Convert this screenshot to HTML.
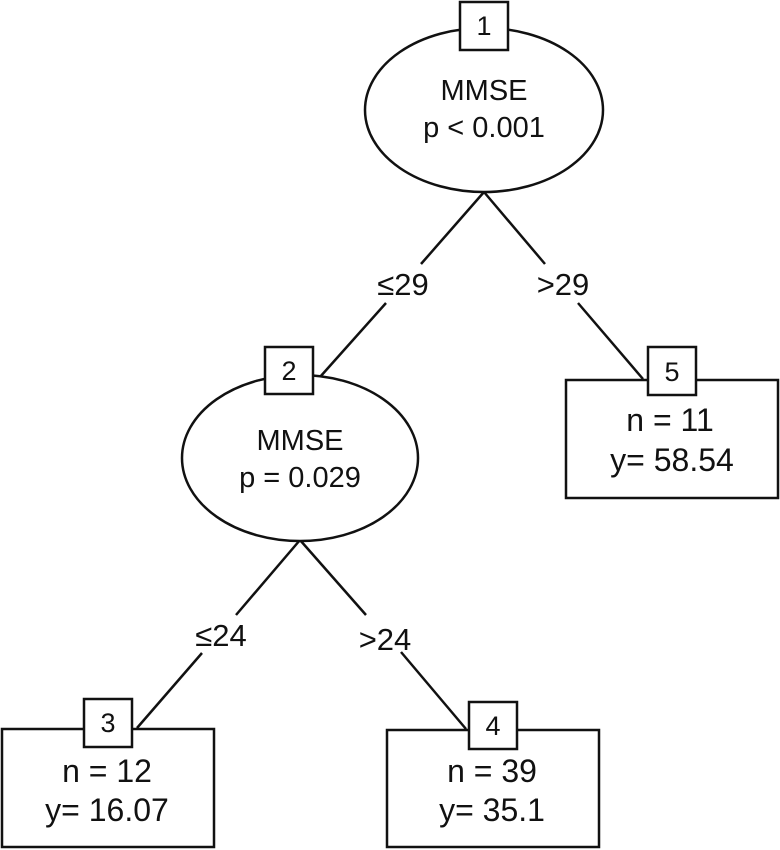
<!DOCTYPE html>
<html><head><meta charset="utf-8"><style>
html,body{margin:0;padding:0;background:#fff;}
svg{display:block;}
text{font-family:"Liberation Sans",Arial,sans-serif;fill:#111;}
</style></head><body>
<svg width="780" height="850" viewBox="0 0 780 850" xmlns="http://www.w3.org/2000/svg">
<g stroke="#111" stroke-width="2.5" fill="none">
<line x1="484" y1="192" x2="421" y2="264"/>
<line x1="386" y1="303" x2="320" y2="377"/>
<line x1="484" y1="192" x2="545" y2="264"/>
<line x1="578" y1="303" x2="643" y2="379"/>
<line x1="300" y1="540" x2="236" y2="615"/>
<line x1="202" y1="653" x2="137" y2="728"/>
<line x1="300" y1="540" x2="366" y2="615"/>
<line x1="401" y1="652" x2="466" y2="729"/>
</g>
<g stroke="#111" stroke-width="2.5" fill="#fff">
<ellipse cx="484" cy="110" rx="119" ry="82"/>
<rect x="460" y="2" width="48" height="48"/>
<ellipse cx="300" cy="458" rx="118" ry="83"/>
<rect x="265" y="347" width="48" height="47"/>
<rect x="566" y="380" width="212" height="118"/>
<rect x="648" y="347" width="48" height="48"/>
<rect x="2" y="729" width="212" height="118"/>
<rect x="84" y="699" width="48" height="48"/>
<rect x="387" y="730" width="212" height="117"/>
<rect x="469" y="702" width="48" height="47"/>
</g>
<g font-size="27" text-anchor="middle">
<text x="484" y="35">1</text>
<text x="289" y="380">2</text>
<text x="672" y="381">5</text>
<text x="108" y="732">3</text>
<text x="493" y="735">4</text>
</g>
<g font-size="29" text-anchor="middle">
<text x="484" y="100">MMSE</text>
<text x="484" y="137">p &lt; 0.001</text>
<text x="300" y="450">MMSE</text>
<text x="300" y="487">p = 0.029</text>
</g>
<g font-size="31" text-anchor="middle">
<text x="403" y="295">≤29</text>
<text x="563" y="295">&gt;29</text>
<text x="221" y="646">≤24</text>
<text x="385" y="650">&gt;24</text>
</g>
<g font-size="32" text-anchor="middle">
<text x="670" y="431">n = 11</text>
<text x="672" y="471">y= 58.54</text>
<text x="107" y="782">n = 12</text>
<text x="107" y="821">y= 16.07</text>
<text x="492" y="782">n = 39</text>
<text x="492" y="821">y= 35.1</text>
</g>
</svg>
</body></html>
